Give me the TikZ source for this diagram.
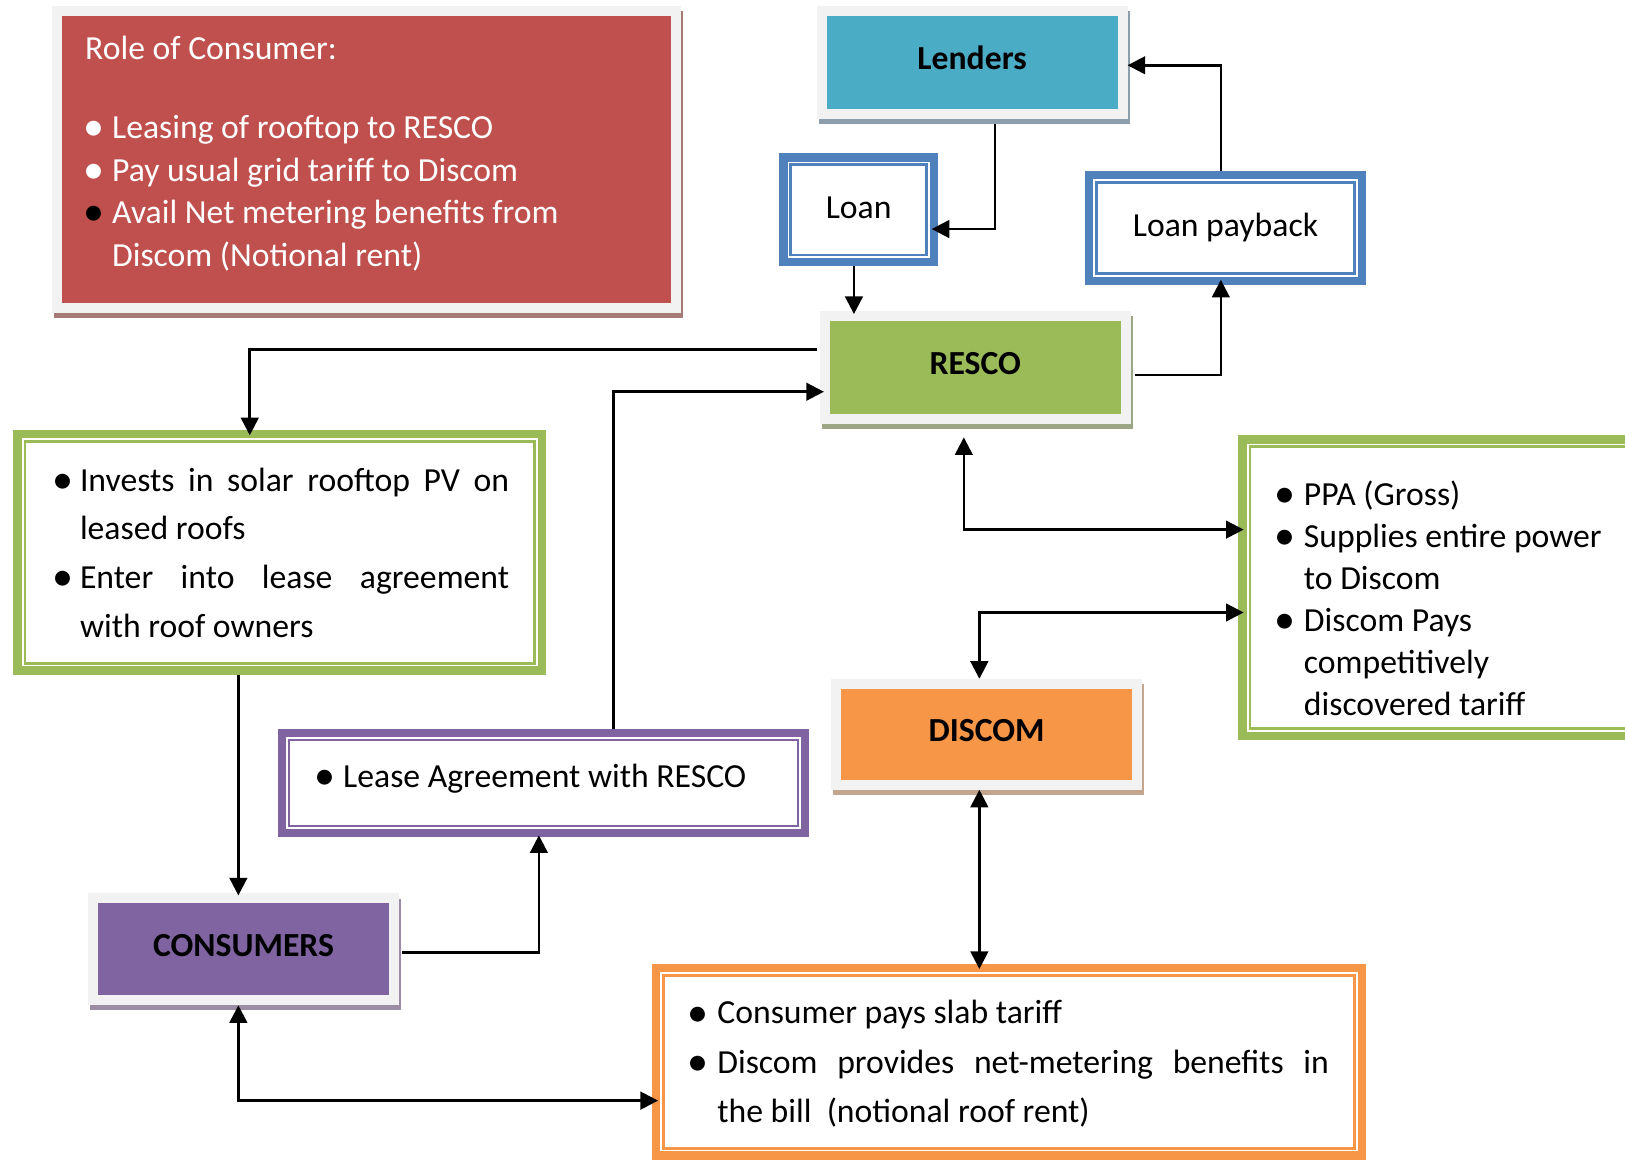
\documentclass[tikz,border=0pt]{standalone}
\usepackage{fontspec}
\setmainfont{Carlito}
\usetikzlibrary{arrows.meta,calc}
\definecolor{cred}{HTML}{C0504D}
\definecolor{cteal}{HTML}{4BACC6}
\definecolor{cgreen}{HTML}{9BBB59}
\definecolor{corange}{HTML}{F79646}
\definecolor{cpurple}{HTML}{8064A2}
\definecolor{cblue}{HTML}{4F81BD}
\definecolor{cframe}{HTML}{F2F2F2}
\definecolor{shred}{HTML}{A67A75}
\definecolor{shteal}{HTML}{8C9DAB}
\definecolor{shgreen}{HTML}{9CA685}
\definecolor{shorange}{HTML}{C4A58E}
\definecolor{shpurple}{HTML}{9B8DA3}
\newlength\bulw
\newcommand\bigbul{\kern-2pt\raisebox{-2pt}{\scalebox{1.25}{\textbullet}}}
\newcommand\bitem[2][]{\par\noindent\hangindent=\bulw\relax\hangafter=1\relax\makebox[\bulw][l]{#1\bigbul}#2\par}
\newcommand\boxfont[1]{\fontsize{32.5}{#1}\selectfont}
\pgfdeclarelayer{back}
\pgfsetlayers{back,main}
\begin{document}
\begin{tikzpicture}[x=1pt,y=-1pt,
  conn/.style={line width=2.5pt, >={Triangle[length=17pt,width=17pt]}},
  fbox/.style 2 args={fill=#1, draw=cframe, line width=9.5pt, inner sep=0pt,
     text height=23pt, text depth=10pt, font={\boxfont{40}\bfseries},
     preaction={draw=#2, fill=#2, transform canvas={xshift=2pt,yshift=-5pt}}},
  dbox/.style={draw=#1, fill=white, line width=8pt, inner sep=0pt,
     text height=23pt, text depth=7pt, font={\boxfont{40}},
     path picture={\draw[#1, line width=2.5pt]
        ([shift={(7pt,-7pt)}]path picture bounding box.north west) rectangle
        ([shift={(-7pt,7pt)}]path picture bounding box.south east);}},
  txt/.style={inner sep=0pt, anchor=base west},
]
\useasboundingbox (0,0) rectangle (1568,1119);
\begin{pgfonlayer}{back}
\fill[white] (0,0) rectangle (1568,1119);
\end{pgfonlayer}

% filled boxes with frame and shadow
\node[fbox={cred}{shred}, minimum width=597.5pt, minimum height=286.5pt] (role) at (353.5,154) {};
\node[fbox={cteal}{shteal}, minimum width=290.5pt, minimum height=99.5pt] (lenders) at (938,60.5) {Lenders};
\node[fbox={cgreen}{shgreen}, minimum width=290.5pt, minimum height=99.5pt] (resco) at (941,354.5) {RESCO};
\node[fbox={corange}{shorange}, minimum width=290.5pt, minimum height=97.5pt] (discom) at (952,708.5) {DISCOM};
\node[fbox={cpurple}{shpurple}, minimum width=290.5pt, minimum height=98.5pt] (consumers) at (235,916) {CONSUMERS};

% double-bordered boxes
\node[dbox=cblue, minimum width=145pt, minimum height=101pt] (loan) at (828.5,202.5) {Loan};
\node[dbox=cblue, minimum width=263pt, minimum height=102pt] (lpay) at (1182.5,220) {Loan payback};
\node[dbox=cgreen, minimum width=506pt, minimum height=228pt] (leftg) at (270,533) {};
\node[dbox=cgreen, minimum width=377pt, minimum height=286pt] (rightg) at (1387.5,567) {};
\node[dbox=cpurple, minimum width=505pt, minimum height=97pt] (lease) at (524.5,755.5) {};
\node[dbox=corange, minimum width=681pt, minimum height=181pt] (bill) at (973.5,1024.5) {};

% texts
\node[txt, text=white] (roletext) at (82,57) {\begin{minipage}[t]{570pt}\boxfont{41}\setlength\bulw{26pt}%
Role of Consumer:\par\vspace{36pt}%
\bitem{Leasing of rooftop to RESCO}%
\bitem{Pay usual grid tariff to Discom}%
\bitem[\color{black}]{Avail Net metering benefits from\newline Discom (Notional rent)}%
\end{minipage}};
\node[txt] (investtext) at (52,474) {\begin{minipage}[t]{439pt}\boxfont{47}\setlength\bulw{25pt}%
\tolerance=10000 \hyphenpenalty=10000 \exhyphenpenalty=10000
\bitem{Invests in solar rooftop PV on\linebreak leased roofs}%
\bitem{Enter into lease agreement\linebreak with roof owners}%
\end{minipage}};
\node[txt] (ppatext) at (1232,488) {\begin{minipage}[t]{340pt}\boxfont{40.4}\setlength\bulw{26pt}%
\bitem{PPA (Gross)}%
\bitem{Supplies entire power\newline to Discom}%
\bitem{Discom Pays\newline competitively\newline discovered tariff}%
\end{minipage}};
\node[txt] (leasetext) at (305,760) {\boxfont{40}\makebox[26pt][l]{\bigbul}Lease Agreement with RESCO};
\node[txt] (billtext) at (665,988) {\begin{minipage}[t]{617pt}\boxfont{47.5}\setlength\bulw{27pt}%
\tolerance=10000 \hyphenpenalty=10000 \exhyphenpenalty=10000
\bitem{Consumer pays slab tariff}%
\bitem{Discom provides net-metering benefits in\linebreak the bill\ \ (notional roof rent)}%
\end{minipage}};

% connectors
\draw[conn,->,shorten >=-6pt] ($(960,0 |- lenders.south)+(0,5)$) -- (960,221) -- (loan.east |- 0,221);
\draw[conn,->] (1178,0 |- lpay.north) -- (1178,63) -- (lenders.east |- 0,63);
\draw[conn,->,shorten >=-3pt] (824,0 |- loan.south) -- (824,0 |- resco.north);
\draw[conn,->,shorten >=-5pt] ($(resco.east |- 0,362)+(4,0)$) -- (1178,362) -- (1178,0 |- lpay.south);
\draw[conn,->,shorten >=-5pt] ($(resco.west |- 0,337)+(-3,0)$) -- (241,337) -- (241,0 |- leftg.north);
\draw[conn,->,shorten >=-4pt] (592,0 |- lease.north) -- (592,378) -- (resco.west |- 0,378);
\draw[conn,<->,shorten >=-5pt] ($(930,0 |- resco.south)+(0,13)$) -- (930,511) -- (rightg.west |- 0,511);
\draw[conn,<->,shorten >=-5pt] (945,0 |- discom.north) -- (945,591) -- (rightg.west |- 0,591);
\draw[conn,->,shorten >=-2pt] (230,0 |- leftg.south) -- (230,0 |- consumers.north);
\draw[conn,->,shorten >=-2pt] ($(consumers.east |- 0,919)+(3,0)$) -- (520,919) -- (520,0 |- lease.south);
\draw[conn,<->,shorten >=-5pt] (945,0 |- discom.south) -- (945,0 |- bill.north);
\draw[conn,<->,shorten >=-6pt] (230,0 |- consumers.south) -- (230,1062) -- (bill.west |- 0,1062);
\end{tikzpicture}
\end{document}
